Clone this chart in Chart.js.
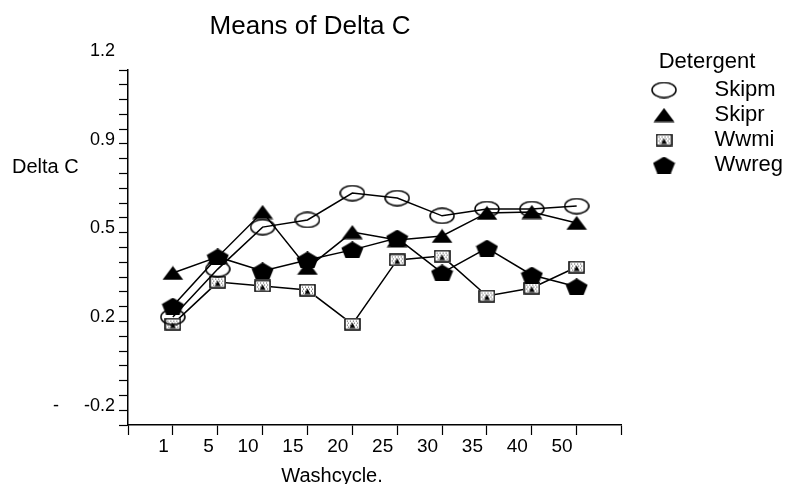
<!DOCTYPE html>
<html>
<head>
<meta charset="utf-8">
<title>Means of Delta C</title>
<script src="https://cdn.jsdelivr.net/npm/chart.js@4.4.1/dist/chart.umd.min.js"></script>
<style>
  html, body { margin: 0; padding: 0; background: #fff; }
</style>
</head>
<body>
<canvas id="myChart" width="793" height="484"></canvas>
<script>
/* ---- values (y in plot units, bottom of axis = 0) ---- */
const washcycles = ['1', '5', '10', '15', '20', '25', '30', '35', '40', '50'];
const skipm = [0.365, 0.527, 0.669, 0.693, 0.784, 0.767, 0.707, 0.730, 0.730, 0.740];
const skipr = [0.514, 0.568, 0.720, 0.531, 0.652, 0.625, 0.639, 0.717, 0.720, 0.683];
const wwmi  = [0.341, 0.483, 0.470, 0.456, 0.341, 0.558, 0.571, 0.436, 0.463, 0.534];
const wwreg = [0.402, 0.568, 0.521, 0.558, 0.592, 0.632, 0.514, 0.598, 0.507, 0.467];
// y labels as printed on the major ticks, bottom to top
const yTickLabels = ['-     -0.2', '0.2', '0.5', '0.9', '1.2'];

const FONT = "'Liberation Sans', Arial, Helvetica, sans-serif";
Chart.defaults.font.family = FONT;
Chart.defaults.color = '#000';

/* ---- marker images ---- */
function makeMarker(w, h, draw) {
    const c = document.createElement('canvas');
    c.width = w;
    c.height = h;
    const g = c.getContext('2d');
    g.strokeStyle = '#000';
    g.fillStyle = '#000';
    g.lineWidth = 1.5;
    draw(g, w, h);
    return c;
}

const ellipseMark = makeMarker(26, 17, function(g, w, h) {
    g.beginPath();
    g.ellipse(w / 2, h / 2, w / 2 - 1, h / 2 - 1, 0, 0, Math.PI * 2);
    g.stroke();
});

const triangleMark = makeMarker(22, 15, function(g, w, h) {
    g.beginPath();
    g.moveTo(w / 2, 0.5);
    g.lineTo(w - 0.5, h - 0.5);
    g.lineTo(0.5, h - 0.5);
    g.closePath();
    g.fill();
});

const squareMark = makeMarker(17, 13, function(g, w, h) {
    g.fillStyle = '#fff';
    g.fillRect(0, 0, w, h);
    g.strokeRect(1, 1, w - 2, h - 2);
    g.fillStyle = '#444';
    for (let yy = 3; yy < h - 3; yy += 2) {
        for (let xx = 3 + (yy % 4 === 1 ? 1 : 0); xx < w - 3; xx += 3) {
            g.fillRect(xx, yy, 1, 1);
        }
    }
    g.fillStyle = '#000';
    g.beginPath();
    g.moveTo(w / 2, 5);
    g.lineTo(w / 2 + 3, h - 2.5);
    g.lineTo(w / 2 - 3, h - 2.5);
    g.closePath();
    g.fill();
});

const pentagonMark = makeMarker(23, 17, function(g, w, h) {
    const ry = h / 1.809;
    const rx = (w / 2 - 0.5) / 0.951;
    const cx = w / 2, cy = ry;
    g.beginPath();
    for (let k = 0; k < 5; k++) {
        const a = -Math.PI / 2 + k * 2 * Math.PI / 5;
        const px = cx + rx * Math.cos(a), py = cy + ry * Math.sin(a);
        if (k === 0) g.moveTo(px, py); else g.lineTo(px, py);
    }
    g.closePath();
    g.fill();
});

/* ---- extra texts placed like the original ---- */
const textPlugin = {
    id: 'texts',
    afterDraw(chart) {
        const c = chart.ctx;
        c.save();
        c.fillStyle = '#000';
        c.textBaseline = 'alphabetic';
        c.textAlign = 'center';
        c.font = '26px ' + FONT;
        c.fillText('Means of Delta C', 310, 34);
        c.font = '22px ' + FONT;
        c.fillText('Detergent', 707, 68);
        c.font = '20px ' + FONT;
        c.textAlign = 'left';
        c.fillText('Delta C', 12, 173);
        c.textAlign = 'center';
        c.fillText('Washcycle.', 332, 482);
        c.restore();
    }
};

function lineDataset(label, values, marker, order) {
    return {
        label: label,
        data: values.map(function(v, i) { return { x: i + 1, y: v }; }),
        borderColor: '#000',
        backgroundColor: '#000',
        borderWidth: 1.5,
        pointStyle: marker,
        pointRadius: 8,
        tension: 0,
        fill: false,
        order: order
    };
}

const ctx = document.getElementById('myChart').getContext('2d');
const myChart = new Chart(ctx, {
    type: 'line',
    data: {
        datasets: [
            lineDataset('Skipm', skipm, ellipseMark, 1),
            lineDataset('Skipr', skipr, triangleMark, 4),
            lineDataset('Wwmi', wwmi, squareMark, 3),
            lineDataset('Wwreg', wwreg, pentagonMark, 2)
        ]
    },
    options: {
        responsive: false,
        animation: false,
        events: [],
        layout: { padding: { top: 70, left: 0, right: 0, bottom: 0 } },
        plugins: {
            tooltip: { enabled: false },
            legend: {
                position: 'right',
                align: 'start',
                // blank title only reserves the gap; the word is drawn by textPlugin
                title: {
                    display: true,
                    text: ' ',
                    font: { size: 5 },
                    padding: 0
                },
                labels: {
                    usePointStyle: true,
                    pointStyleWidth: 79,
                    padding: 3,
                    color: '#000',
                    font: { size: 22 },
                    sort: function(a, b) { return a.datasetIndex - b.datasetIndex; }
                }
            }
        },
        scales: {
            x: {
                type: 'linear',
                min: 0,
                max: 11,
                border: { color: '#000', width: 1.5 },
                grid: { drawOnChartArea: false, tickLength: 10, tickColor: '#000', tickWidth: 1.2 },
                ticks: {
                    stepSize: 1,
                    autoSkip: false,
                    maxRotation: 0,
                    padding: 0,
                    align: 'end',
                    labelOffset: -4,
                    font: { size: 19 },
                    callback: function(v) {
                        return (v >= 1 && v <= 10) ? washcycles[v - 1] : '';
                    }
                },
                afterFit: function(s) { s.height = 59; }
            },
            y: {
                min: 0,
                max: 1.2,
                border: { color: '#000', width: 1.5 },
                grid: { drawOnChartArea: false, tickLength: 9, tickColor: '#000', tickWidth: 1.2 },
                ticks: {
                    stepSize: 0.05,
                    autoSkip: false,
                    padding: 4,
                    labelOffset: -19,
                    font: { size: 18 },
                    callback: function(v) {
                        const n = Math.round(v * 100);
                        return n % 30 === 0 ? yTickLabels[n / 30] : '';
                    }
                },
                afterFit: function(s) { s.width = 128; }
            }
        }
    },
    plugins: [textPlugin]
});
</script>
</body>
</html>
